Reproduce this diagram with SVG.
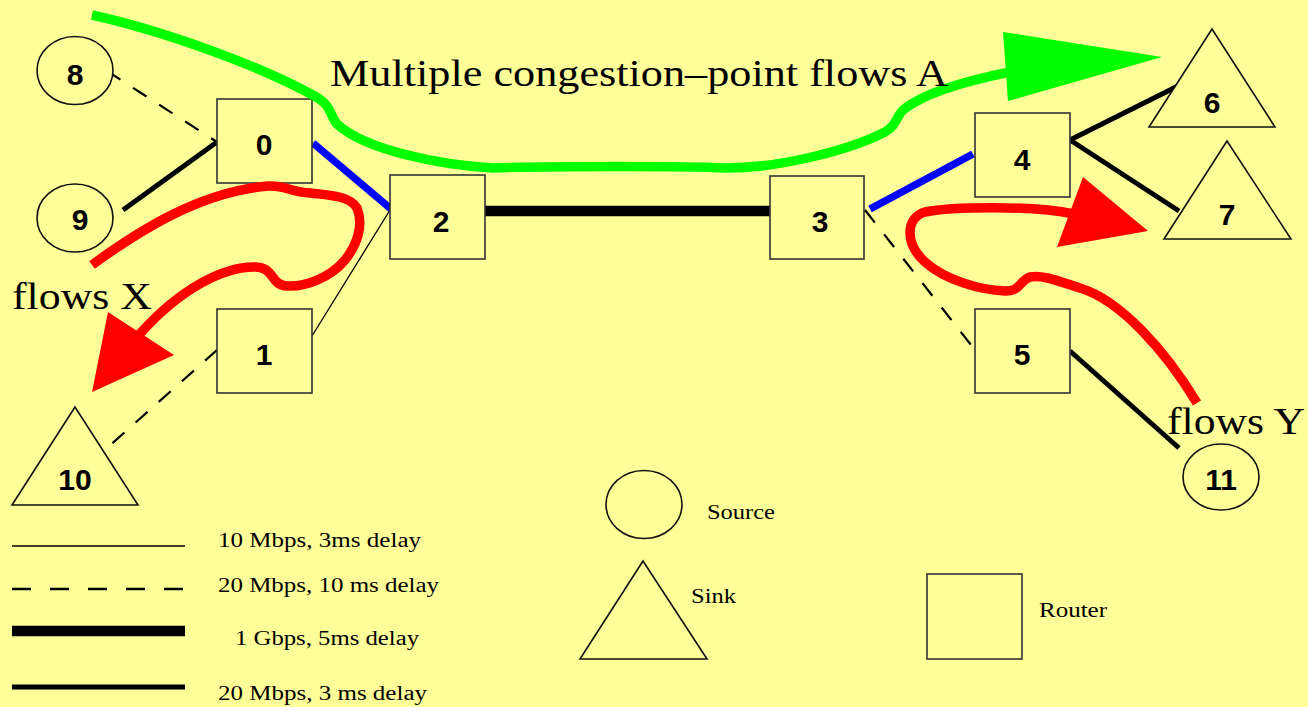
<svg xmlns="http://www.w3.org/2000/svg" width="1308" height="707" viewBox="0 0 1308 707">
<style>
.bg{fill:#ffff99}
.box{fill:#ffff99;stroke:#333;stroke-width:1.6}
.shape{fill:#ffff99;stroke:#111;stroke-width:1.6}
.num{font-family:"Liberation Sans",Arial,sans-serif;font-weight:bold;font-size:30px;fill:#000;text-anchor:middle}
.big{font-family:"Liberation Serif","Times New Roman",serif;font-size:38px;fill:#000}
.leg{font-family:"Liberation Serif","Times New Roman",serif;font-size:20px;fill:#000}
.thin{stroke:#000;stroke-width:1.3;fill:none}
.dash{stroke:#000;stroke-width:2.2;stroke-dasharray:16 15;fill:none}
.med{stroke:#000;stroke-width:5;fill:none}
.fat{stroke:#000;stroke-width:10.5;fill:none}
.blue{stroke:#0000ff;stroke-width:7.5;fill:none}
.green{stroke:#00ff00;stroke-width:9.5;fill:none;stroke-linecap:butt}
.red{stroke:#ff0000;stroke-width:9.5;fill:none;stroke-linecap:butt}
</style>
<rect class="bg" x="0" y="0" width="1308" height="707"/>

<g id="connectors">
<line class="dash" x1="107" y1="71" x2="217" y2="142"/>
<line class="med" x1="123" y1="210" x2="217" y2="142"/>
<line class="blue" x1="313" y1="143" x2="391" y2="209"/>
<line class="thin" x1="390" y1="210" x2="312" y2="336"/>
<line class="dash" x1="217" y1="350" x2="107" y2="448"/>
<line class="fat" x1="485" y1="211" x2="770" y2="211"/>
<line class="blue" x1="870" y1="209" x2="973" y2="154"/>
<line class="dash" x1="865" y1="210" x2="975" y2="350"/>
<line class="med" x1="1070" y1="140" x2="1180" y2="85"/>
<line class="med" x1="1070" y1="140" x2="1179" y2="211"/>
<line class="med" x1="1070" y1="351" x2="1179" y2="448"/>
</g>

<g id="node-0"><rect class="box" x="217" y="99" width="95" height="84"/><text class="num" x="264" y="155">0</text></g>
<g id="node-1"><rect class="box" x="217" y="309" width="95" height="84"/><text class="num" x="264" y="365">1</text></g>
<g id="node-2"><rect class="box" x="390" y="175" width="95" height="84"/><text class="num" x="441" y="232">2</text></g>
<g id="node-3"><rect class="box" x="770" y="176" width="94" height="83"/><text class="num" x="820" y="232">3</text></g>
<g id="node-4"><rect class="box" x="975" y="113" width="95" height="84"/><text class="num" x="1022" y="170">4</text></g>
<g id="node-5"><rect class="box" x="975" y="309" width="95" height="84"/><text class="num" x="1022" y="365">5</text></g>
<g id="node-6"><polygon class="shape" points="1212,29 1149,127 1275,127"/><text class="num" x="1212" y="113">6</text></g>
<g id="node-7"><polygon class="shape" points="1227,141 1164,239 1291,239"/><text class="num" x="1227" y="225">7</text></g>
<g id="node-8"><ellipse class="shape" cx="75" cy="70.5" rx="38" ry="34"/><text class="num" x="75" y="85">8</text></g>
<g id="node-9"><ellipse class="shape" cx="75" cy="218" rx="38" ry="34"/><text class="num" x="80" y="230">9</text></g>
<g id="node-10"><polygon class="shape" points="75,407 12,505 138,505"/><text class="num" x="75" y="490">10</text></g>
<g id="node-11"><ellipse class="shape" cx="1221" cy="477" rx="38" ry="33"/><text class="num" x="1221" y="490">11</text></g>

<g id="flows">
<path class="green" d="M92,15 C160,30 260,65 318,98 C332,107 330,116 337,124 C365,150 440,165 493,168 C560,166 680,166 727,168 C780,168 850,150 885,132 C898,124 895,118 903,110 C925,92 970,80 1010,72"/>
<polygon fill="#00ff00" points="1003,32 1162,57 1008,101"/>
<path class="red" d="M92,265 C140,230 200,192 268,186 C285,185 290,192 310,193 C330,195 350,196 357,208 C364,225 357,245 345,260 C330,278 305,287 287,286 C270,285 275,268 256,267 C225,266 180,288 138,336"/>
<polygon fill="#ff0000" points="108,312 174,355 92,392"/>
<path class="red" d="M1197,403 C1165,350 1120,300 1080,288 C1050,278 1040,275 1030,277 C1020,280 1020,292 1005,291 C980,290 945,280 925,262 C905,244 905,218 925,212 C950,207 1030,205 1074,214"/>
<polygon fill="#ff0000" points="1083,177 1148,231 1057,247"/>
<text class="big" x="330" y="86" textLength="618" lengthAdjust="spacingAndGlyphs">Multiple congestion–point flows A</text>
<text class="big" x="12" y="309" textLength="140" lengthAdjust="spacingAndGlyphs">flows X</text>
<text class="big" x="1167" y="434" textLength="138" lengthAdjust="spacingAndGlyphs">flows Y</text>
</g>

<g id="legend">
<line class="thin" x1="12" y1="546" x2="185" y2="546"/>
<line stroke="#000" stroke-width="2.5" stroke-dasharray="19 19" x1="12" y1="589" x2="185" y2="589"/>
<line class="fat" x1="12" y1="631" x2="185" y2="631"/>
<line class="med" x1="12" y1="687" x2="185" y2="687"/>
<text class="leg" x="218" y="547" textLength="203" lengthAdjust="spacingAndGlyphs">10 Mbps, 3ms delay</text>
<text class="leg" x="218" y="592" textLength="221" lengthAdjust="spacingAndGlyphs">20 Mbps, 10 ms delay</text>
<text class="leg" x="235" y="645" textLength="184" lengthAdjust="spacingAndGlyphs">1 Gbps, 5ms delay</text>
<text class="leg" x="218" y="700" textLength="209" lengthAdjust="spacingAndGlyphs">20 Mbps, 3 ms delay</text>
<ellipse class="shape" cx="644" cy="504.5" rx="38" ry="34"/>
<text class="leg" x="707" y="519" textLength="68" lengthAdjust="spacingAndGlyphs">Source</text>
<polygon class="shape" points="643,561 580,659 707,659"/>
<text class="leg" x="691" y="603" textLength="45" lengthAdjust="spacingAndGlyphs">Sink</text>
<rect class="box" x="927" y="574" width="95" height="85"/>
<text class="leg" x="1039" y="617" textLength="68" lengthAdjust="spacingAndGlyphs">Router</text>
</g>
</svg>
